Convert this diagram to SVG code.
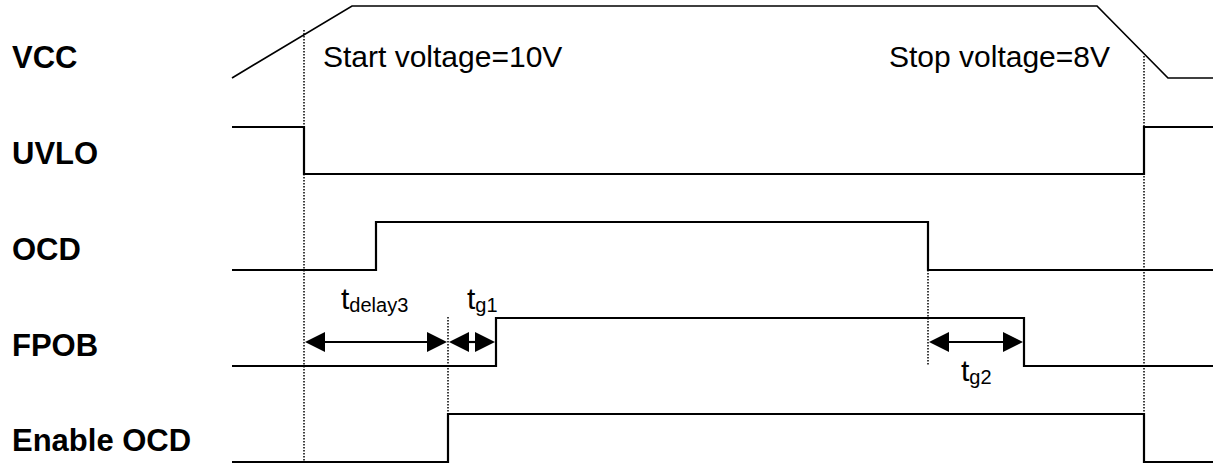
<svg xmlns="http://www.w3.org/2000/svg" width="1213" height="466" viewBox="0 0 1213 466">
<defs>
<style>
.lbl{font-family:"Liberation Sans",Arial,sans-serif;font-weight:bold;font-size:31px;fill:#000}
.txt{font-family:"Liberation Sans",Arial,sans-serif;font-size:30px;fill:#000}
.t{font-family:"Liberation Sans",Arial,sans-serif;font-size:30px;fill:#000}
.sub{font-size:20px}
.sig{fill:none;stroke:#000;stroke-width:2.2;stroke-linejoin:miter}
.vcc{fill:none;stroke:#000;stroke-width:1.7}
.dot{fill:none;stroke:#000;stroke-width:1.5;stroke-dasharray:1.5 1.5}
.dim{stroke:#000;stroke-width:2.2}
.ah{fill:#000}
</style>
</defs>
<rect width="1213" height="466" fill="#fff"/>
<g id="labels">
<text class="lbl" x="12" y="68">VCC</text>
<text class="lbl" x="12" y="164">UVLO</text>
<text class="lbl" x="12" y="260">OCD</text>
<text class="lbl" x="12" y="356">FPOB</text>
<text class="lbl" x="12" y="451">Enable OCD</text>
</g>
<g id="vcc">
<path class="vcc" d="M232,78 L352,6 L1097,6 L1168,78 L1213,78"/>
<text class="txt" x="323" y="67">Start voltage=10V</text>
<text class="txt" x="1110" y="67" text-anchor="end">Stop voltage=8V</text>
</g>
<g id="uvlo"><path class="sig" d="M232,127 L304,127 L304,174 L1144,174 L1144,127 L1213,127"/></g>
<g id="ocd"><path class="sig" d="M232,270 L376,270 L376,222 L928,222 L928,270 L1213,270"/></g>
<g id="fpob"><path class="sig" d="M232,366 L496,366 L496,318 L1024,318 L1024,366 L1213,366"/></g>
<g id="enable-ocd"><path class="sig" d="M232,462 L448,462 L448,414 L1144,414 L1144,462 L1213,462"/></g>
<g id="connectors">
<line class="dot" x1="304" y1="30" x2="304" y2="463"/>
<line class="dot" x1="1144" y1="56" x2="1144" y2="414"/>
<line class="dot" x1="448" y1="317" x2="448" y2="414"/>
<line class="dot" x1="928" y1="270" x2="928" y2="366"/>
<line class="dim" x1="320" y1="342" x2="432" y2="342"/>
<polygon class="ah" points="305,342 325,332 325,352"/>
<polygon class="ah" points="447,342 427,332 427,352"/>
<line class="dim" x1="465" y1="342" x2="479" y2="342"/>
<polygon class="ah" points="449,342 469,332 469,352"/>
<polygon class="ah" points="495,342 475,332 475,352"/>
<line class="dim" x1="944" y1="342" x2="1008" y2="342"/>
<polygon class="ah" points="929,342 949,332 949,352"/>
<polygon class="ah" points="1023,342 1003,332 1003,352"/>
</g>
<g id="timing-labels">
<text class="t" x="341" y="309">t<tspan class="sub" dy="3">delay3</tspan></text>
<text class="t" x="467" y="309">t<tspan class="sub" dy="3">g1</tspan></text>
<text class="t" x="961" y="381">t<tspan class="sub" dy="3">g2</tspan></text>
</g>
</svg>
